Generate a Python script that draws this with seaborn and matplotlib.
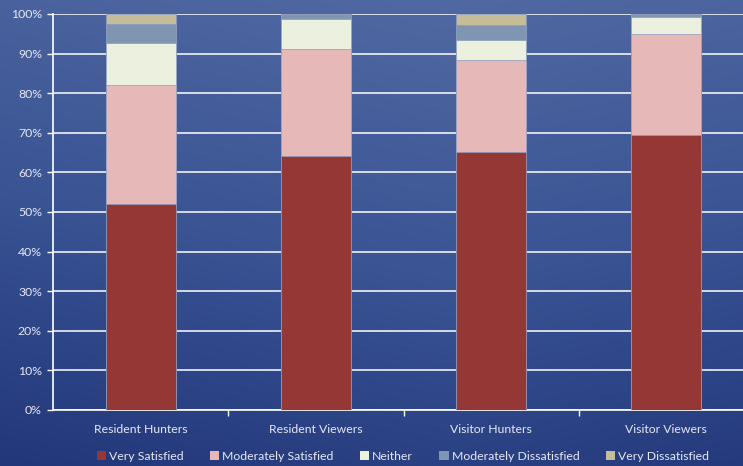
import numpy as np
import pandas as pd
import matplotlib
matplotlib.use("Agg")
import matplotlib.pyplot as plt
import seaborn as sns
from matplotlib.patches import Patch
from matplotlib.colors import LinearSegmentedColormap

categories = ["Resident Hunters", "Resident Viewers", "Visitor Hunters", "Visitor Viewers"]
series = ["Very Satisfied", "Moderately Satisfied", "Neither", "Moderately Dissatisfied", "Very Dissatisfied"]
very_satisfied = [52.0, 64.1, 65.2, 69.4]
moderately_satisfied = [30.1, 27.1, 23.3, 25.5]
neither = [10.7, 7.5, 4.9, 4.4]
moderately_dissatisfied = [4.6, 1.3, 3.9, 0.6]
very_dissatisfied = [2.6, 0.0, 2.7, 0.0]
colors = ["#953735", "#E6B9B8", "#EBF1DE", "#7F95B2", "#C4BD97"]
yticks = [0, 10, 20, 30, 40, 50, 60, 70, 80, 90, 100]

sns.set_theme(style="white")
plt.rcParams['font.family'] = ['Lato', 'DejaVu Sans']
txt = "#E6E9F2"
fs = 8.8

values = [very_satisfied, moderately_satisfied, neither, moderately_dissatisfied, very_dissatisfied]
cum = np.cumsum(np.array(values), axis=0)
rows = []
for i, s in enumerate(series):
    for j, c in enumerate(categories):
        rows.append({"category": c, "series": s, "top": cum[i, j]})
df = pd.DataFrame(rows)

fig = plt.figure(figsize=(7.43, 4.66), dpi=100)

# gradient background
bg = fig.add_axes([0, 0, 1, 1], zorder=-10)
cmap = LinearSegmentedColormap.from_list("bg", ["#22377A", "#3A5494", "#5169A2"])
yy, xx = np.mgrid[0:1:200j, 0:1:300j]
grad = 0.75 * yy + 0.25 * (1 - np.abs(xx - 0.6))
bg.imshow(grad, cmap=cmap, origin="lower", aspect="auto", extent=[0, 1, 0, 1])
bg.set_axis_off()

ax = fig.add_axes([53 / 743, 56 / 466, 701 / 743, 396 / 466])
ax.patch.set_alpha(0)

for i in reversed(range(len(series))):
    sub = df[df["series"] == series[i]]
    sns.barplot(data=sub, x="category", y="top", order=categories, color=colors[i],
                width=0.4, ax=ax, saturation=1, edgecolor="#8A9CC0", linewidth=0.5, zorder=3)

ax.set_xlim(-0.5, 3.5)
ax.set_ylim(0, 100)
ax.set_yticks(yticks)
ax.set_yticklabels([f"{v}%" for v in yticks], color=txt, fontsize=fs)
ax.yaxis.grid(True, color="white", linewidth=1.3, alpha=0.85, zorder=0)
ax.set_axisbelow(True)
ax.tick_params(axis="y", length=4, color="white", width=1, pad=4, left=True)
ax.set_xticks(range(4))
ax.set_xticklabels(categories, color=txt, fontsize=fs)
ax.set_xticks([0.5, 1.5, 2.5], minor=True)
ax.tick_params(axis="x", which="major", length=0, pad=10)
ax.tick_params(axis="x", which="minor", length=4, color="white", width=1, bottom=True)
ax.set_xlabel("")
ax.set_ylabel("")
for side in ["top", "right"]:
    ax.spines[side].set_visible(False)
for side in ["left", "bottom"]:
    ax.spines[side].set_color("white")
    ax.spines[side].set_linewidth(1.2)

handles = [Patch(facecolor=colors[i], edgecolor="none", label=series[i]) for i in range(len(series))]
leg = fig.legend(handles=handles, loc="center", bbox_to_anchor=(403 / 743, 10 / 466), ncol=5,
                 frameon=False, fontsize=fs, handlelength=0.75, handleheight=0.75,
                 handletextpad=0.25, columnspacing=2.15)
for t in leg.get_texts():
    t.set_color(txt)

fig.savefig("out.png", dpi=100)
